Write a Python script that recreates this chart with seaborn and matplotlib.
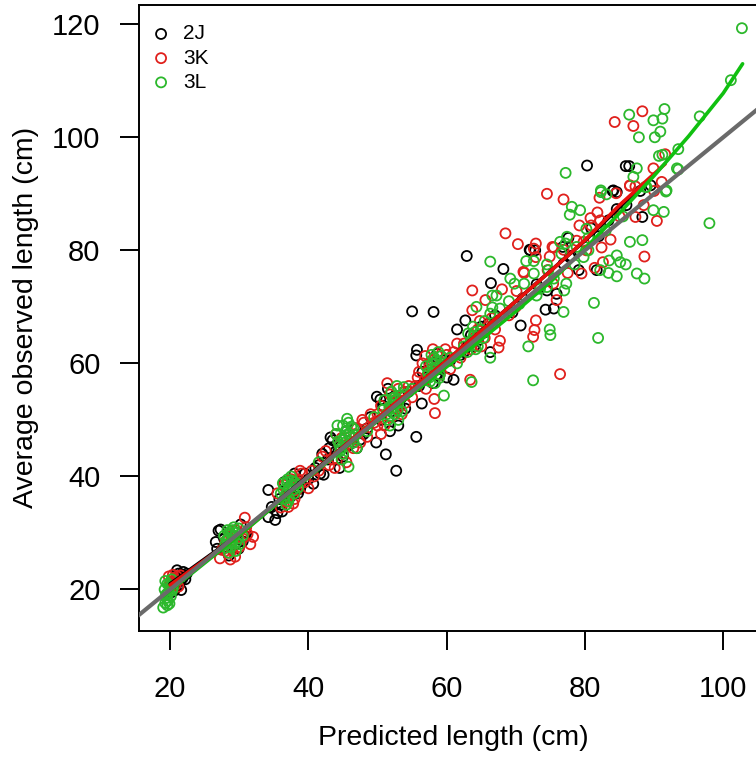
import matplotlib
matplotlib.use("Agg")
import matplotlib.pyplot as plt
import seaborn as sns

# observed vs predicted length, three NAFO divisions
x_2j = [20.5, 21.0, 21.0, 21.9, 21.5, 22.0, 20.8, 21.3, 22.2, 21.6, 20.2,
        27.0, 26.6, 27.3, 29.9, 28.0, 29.0, 30.5, 28.5, 31.0, 30.2,
        35.2, 34.2, 34.7, 34.2, 35.5, 36.0, 37.0, 38.5, 39.0, 36.5, 40.0, 38.0,
        42.2, 41.7, 40.7, 43.5, 43.2, 42.0, 44.0, 45.0, 46.5, 47.0, 45.5, 41.5, 44.5, 48.0,
        49.8, 51.2, 52.7, 49.9, 50.4, 55.6, 50.5, 52.0, 53.0, 51.5, 53.5, 54.0, 48.5,
        56.4, 55.7, 55.6, 55.0, 58.1, 58.6, 57.0, 58.5, 59.5, 56.0, 60.0,
        61.0, 61.5, 62.7, 62.9, 63.0, 64.5, 66.3, 66.4, 65.0, 62.0, 66.0,
        68.2, 70.7, 72.0, 72.8, 72.1, 74.5, 75.9, 75.5, 74.3, 76.8, 77.6, 77.8, 76.9,
        79.1, 80.3, 80.9, 83.4, 84.6, 84.0, 84.6, 84.1, 85.9, 86.4, 88.3, 81.7, 69.5,
        71.0, 73.0, 78.0, 82.0, 86.0, 88.0, 89.5,
        21.2, 21.8, 22.4, 20.6, 27.8, 29.5, 30.8, 26.8,
        35.8, 37.5, 38.8, 39.5, 36.2, 41.0, 42.8, 44.2, 45.8, 46.8, 47.5, 43.0,
        49.0, 50.8, 52.5, 53.2, 54.5, 51.8, 56.5, 57.5, 58.0, 59.0, 60.5,
        62.5, 63.5, 64.0, 65.5, 67.0]
y_2j = [21.0, 22.2, 23.4, 23.1, 21.5, 22.5, 20.3, 20.8, 21.8, 19.9, 19.5,
        30.4, 28.4, 30.6, 27.2, 27.5, 29.5, 28.5, 26.0, 30.0, 31.5,
        32.3, 32.8, 34.6, 37.6, 33.5, 35.0, 38.0, 37.0, 38.5, 39.0, 39.5, 40.5,
        40.3, 40.5, 38.7, 46.4, 46.9, 44.0, 44.5, 43.5, 46.0, 45.0, 48.0, 42.0, 41.5, 47.5,
        46.0, 43.9, 41.0, 54.1, 53.6, 47.0, 50.0, 51.5, 49.0, 55.5, 54.0, 52.0, 48.5,
        52.9, 62.4, 61.4, 69.2, 69.1, 61.7, 57.5, 58.0, 60.5, 56.0, 57.5,
        57.1, 66.0, 67.6, 79.0, 63.0, 64.0, 62.0, 74.2, 66.5, 61.5, 67.0,
        76.7, 66.7, 80.1, 80.0, 80.0, 72.9, 72.3, 69.7, 69.5, 80.6, 82.2, 78.8, 77.6,
        76.5, 95.0, 83.9, 85.3, 87.3, 90.5, 90.3, 90.6, 94.9, 94.9, 85.9, 76.5, 69.0,
        71.5, 74.0, 79.0, 82.5, 88.0, 90.5, 91.5,
        22.8, 22.0, 22.8, 19.8, 29.0, 28.0, 29.5, 27.2,
        36.0, 36.5, 37.8, 40.5, 33.8, 41.5, 43.0, 43.0, 45.5, 48.5, 46.5, 45.0,
        50.5, 52.5, 53.0, 52.5, 55.0, 48.0, 58.5, 60.0, 56.5, 59.0, 60.5,
        62.0, 65.0, 63.0, 65.5, 68.5]

x_3k = [20.0, 20.5, 21.0, 20.3, 21.2, 19.8, 20.7, 21.5,
        27.2, 28.7, 29.4, 31.6, 32.0, 30.8, 28.0, 29.5, 30.0, 27.5, 31.0,
        37.8, 37.1, 40.0, 35.5, 36.5, 38.0, 39.0, 40.5, 38.5, 37.0, 36.0,
        42.0, 43.0, 44.5, 45.0, 46.0, 47.0, 45.5, 46.5, 48.0, 44.0, 41.5, 47.5,
        51.4, 50.0, 51.0, 52.5, 53.0, 53.5, 54.5, 49.5, 52.0, 54.0, 50.5,
        58.3, 58.2, 56.9, 56.0, 57.5, 59.0, 60.0, 58.0, 55.5, 59.5, 57.0,
        63.7, 63.7, 63.4, 65.6, 67.5, 67.7, 62.0, 64.0, 65.0, 66.0, 61.5, 64.5,
        68.5, 70.3, 68.0, 70.1, 71.2, 74.6, 75.4, 75.9, 72.9, 72.7, 72.5, 76.4,
        72.9, 72.6, 72.9, 75.5, 74.9, 71.1, 74.5, 76.9, 82.1, 86.5, 87.3, 91.1,
        90.4, 80.8, 82.2, 81.8, 87.3, 88.6, 83.7, 82.4, 82.6, 81.4, 79.5, 75.3,
        76.9, 80.2, 79.8, 79.2, 80.9, 78.8, 84.3, 88.3, 87.0, 91.6, 89.9, 86.5,
        84.5, 70.0, 69.0, 77.5, 85.0, 88.5, 90.0,
        20.2, 20.8, 21.0, 20.4, 28.3, 29.0, 30.5, 31.2, 28.8,
        36.8, 38.3, 39.5, 37.5, 38.8, 40.8,
        42.5, 43.5, 44.8, 45.8, 46.8, 48.5, 47.8, 43.8,
        49.0, 50.5, 51.8, 52.8, 53.8, 55.0, 50.0,
        55.8, 56.8, 58.8, 59.8, 57.8, 60.5, 56.5,
        61.0, 62.5, 63.5, 65.5, 66.5, 67.0, 64.8]
y_3k = [21.0, 22.0, 21.5, 20.0, 20.5, 22.3, 21.8, 22.5,
        25.5, 25.3, 25.8, 28.0, 29.3, 32.7, 28.5, 30.5, 27.5, 27.0, 31.0,
        35.2, 34.6, 37.9, 37.0, 38.5, 36.0, 40.5, 41.0, 39.5, 36.5, 34.5,
        43.5, 42.0, 45.5, 44.0, 47.0, 48.5, 42.5, 45.0, 49.5, 47.5, 41.0, 46.0,
        56.5, 51.0, 49.0, 53.5, 55.5, 51.0, 56.0, 49.5, 50.5, 53.0, 47.5,
        51.2, 53.7, 61.3, 58.5, 59.5, 58.0, 61.5, 62.5, 56.0, 60.0, 55.5,
        72.9, 69.4, 57.1, 71.2, 62.8, 64.0, 61.0, 64.5, 63.0, 66.5, 63.5, 66.0,
        83.0, 81.1, 73.1, 72.8, 76.0, 76.5, 74.1, 71.2, 67.6, 65.9, 64.7, 58.1,
        81.2, 80.3, 78.8, 80.5, 78.9, 76.2, 90.0, 89.0, 89.3, 91.5, 91.3, 92.1,
        85.2, 85.7, 85.3, 86.7, 85.9, 78.9, 81.9, 80.5, 77.9, 76.9, 75.9, 80.6,
        80.1, 80.0, 81.5, 84.4, 84.4, 81.7, 102.7, 104.6, 102.0, 97.0, 94.5, 91.4,
        90.1, 70.0, 68.5, 76.0, 86.0, 88.0, 90.5,
        21.3, 20.8, 22.3, 22.6, 26.5, 27.0, 29.0, 29.8, 29.5,
        35.5, 37.5, 39.0, 39.5, 41.0, 40.0,
        44.5, 43.0, 46.8, 45.8, 47.5, 47.0, 50.0, 41.5,
        51.0, 52.5, 54.5, 52.0, 55.0, 54.0, 49.0,
        57.5, 57.0, 59.5, 62.5, 60.5, 59.0, 60.0,
        62.0, 63.5, 62.5, 64.5, 68.0, 66.0, 67.5]

x_3l = [19.0, 19.3, 19.5, 19.8, 19.2, 20.0, 19.6, 19.4, 20.3, 19.7, 20.2, 19.9,
        28.0, 28.5, 29.0, 29.5, 28.3, 29.8, 28.8, 29.2, 30.0, 28.5, 27.8, 30.5, 29.5, 29.0,
        36.5, 37.0, 37.5, 37.0, 36.8, 38.0, 37.5, 36.0, 38.5, 37.2, 38.0, 36.3,
        44.5, 45.0, 45.5, 46.0, 45.0, 46.5, 44.0, 45.8, 46.5, 44.8, 47.0, 45.6, 45.8, 44.2,
        51.5, 52.0, 52.5, 53.0, 52.0, 53.5, 51.8, 52.8, 53.0, 51.0, 54.0, 52.5,
        57.5, 58.0, 58.5, 57.8, 59.0, 58.3, 59.6, 57.0, 58.8, 59.5,
        63.0, 63.5, 64.0, 64.5, 65.0, 63.8, 64.3, 66.3, 66.6, 67.2, 66.6, 66.3, 67.7,
        66.3, 63.6, 62.5,
        69.0, 69.2, 69.8, 71.2, 71.8, 72.5, 73.5, 74.5, 77.0, 77.3, 76.9, 75.0, 71.5,
        72.6, 74.5, 74.7, 72.6, 76.4, 77.2, 77.4, 76.6, 78.8, 79.8, 80.2, 80.5, 77.2,
        78.1, 79.3, 77.8, 82.3, 83.1, 82.3, 87.0, 88.7, 91.8, 93.3, 89.9, 91.4, 86.5,
        88.3, 84.6, 85.1, 85.9, 87.5, 83.5, 82.2, 83.4, 84.6, 86.4, 91.5, 89.9, 91.2,
        87.8, 90.9, 90.1, 93.5, 90.7, 91.2, 93.5, 91.7, 87.5, 88.9, 96.6, 101.1, 102.7,
        98.0, 70.5, 73.0, 75.5, 78.5, 80.5, 83.0, 85.5, 81.9, 81.3, 74.9, 88.6,
        19.5, 19.8, 19.3, 20.1, 19.6, 20.4,
        28.2, 28.8, 29.3, 28.6, 29.6, 28.9, 29.9, 28.1,
        36.7, 37.3, 37.8, 36.9, 37.6, 36.4, 38.2, 37.1,
        44.7, 45.3, 45.9, 45.2, 46.2, 44.3, 45.0, 46.8, 44.6,
        51.3, 52.3, 52.7, 53.3, 52.2, 51.7, 53.8, 52.9, 50.8,
        57.3, 57.9, 58.6, 58.2, 59.2, 57.6, 58.9,
        63.3, 63.9, 64.6, 64.2, 65.3, 63.1, 65.5,
        41.5, 48.5, 49.5, 55.0, 60.5, 61.5]
y_3l = [16.8, 17.6, 18.5, 19.5, 20.0, 20.5, 21.0, 19.0, 19.8, 18.0, 21.8, 17.5,
        28.0, 29.0, 28.5, 30.0, 30.5, 29.0, 27.5, 31.0, 28.0, 26.5, 29.5, 29.5, 26.8, 30.5,
        36.0, 37.5, 38.5, 39.5, 35.0, 37.0, 40.0, 37.0, 38.0, 36.2, 39.0, 38.8,
        45.5, 46.5, 48.0, 47.0, 44.0, 46.0, 47.5, 49.5, 48.5, 43.0, 45.0, 50.2, 41.7, 49.0,
        50.0, 52.0, 54.0, 53.0, 55.0, 51.5, 49.0, 56.0, 50.0, 53.5, 54.5, 51.0,
        57.5, 59.0, 60.5, 61.5, 58.0, 56.5, 54.3, 59.5, 62.0, 60.0,
        62.0, 64.0, 65.5, 63.0, 66.0, 66.5, 70.0, 78.0, 72.0, 72.0, 69.9, 68.8, 69.7,
        61.0, 56.7, 63.0,
        71.0, 75.0, 74.1, 74.1, 63.0, 57.0, 73.2, 73.5, 72.9, 74.1, 69.1, 65.0, 78.1,
        78.1, 77.5, 76.5, 75.9, 81.5, 81.2, 82.4, 79.4, 80.6, 78.8, 83.8, 82.2, 93.7,
        87.7, 87.1, 86.3, 90.6, 89.9, 90.3, 93.0, 91.2, 90.6, 94.5, 87.1, 86.8, 81.5,
        81.8, 79.1, 77.9, 77.5, 75.9, 78.2, 76.5, 76.0, 75.4, 104.0, 105.0, 103.0, 103.3,
        100.0, 101.0, 100.0, 97.9, 96.7, 96.9, 94.3, 90.4, 94.5, 91.2, 103.7, 110.1, 119.3,
        84.8, 70.5, 72.0, 75.0, 77.5, 80.0, 83.5, 86.0, 64.5, 70.7, 66.0, 75.0,
        19.2, 20.8, 21.5, 18.8, 17.2, 20.3,
        28.8, 29.8, 29.5, 30.2, 28.4, 28.1, 30.8, 27.4,
        36.8, 38.0, 37.6, 39.0, 39.2, 37.6, 38.6, 35.6,
        45.0, 46.0, 47.5, 47.0, 48.8, 46.2, 49.0, 47.3, 44.5,
        51.0, 52.7, 53.6, 54.3, 53.8, 52.3, 55.8, 51.6, 51.8,
        58.3, 60.0, 59.3, 61.0, 61.3, 56.8, 57.4,
        63.2, 64.8, 65.2, 62.5, 64.5, 65.3, 67.5,
        42.5, 48.0, 50.5, 55.5, 61.0, 60.0]

# smoothed fits
smooth_x_2j = [20, 30, 40, 50, 60, 70, 80, 87]
smooth_y_2j = [21.0, 29.8, 40.2, 50.2, 60.5, 71.0, 81.7, 90.0]
smooth_x_3k = [20, 30, 40, 50, 60, 70, 75, 80, 85, 91.6]
smooth_y_3k = [20.8, 29.6, 40.0, 50.4, 60.5, 71.0, 76.3, 81.8, 88.0, 95.3]
smooth_x_3l = [19, 30, 40, 50, 60, 65, 70, 75, 80, 85, 90, 95, 100, 102.8]
smooth_y_3l = [18.8, 29.6, 39.8, 49.8, 59.4, 64.2, 69.2, 74.4, 80.3, 86.6, 93.2, 100.2, 107.8, 113.0]

one_to_one = [0, 130]

areas = ["2J", "3K", "3L"]
point_colors = {"2J": "black", "3K": "#e0201c", "3L": "#2cb82c"}
line_colors = {"2J": "black", "3K": "#e8100c", "3L": "#10c010"}


def main():
    sns.set_style("ticks")
    plt.rcParams['font.family'] = ['Liberation Sans', 'DejaVu Sans']
    plt.rcParams['text.color'] = 'black'
    plt.rcParams['axes.labelcolor'] = 'black'
    plt.rcParams['xtick.color'] = 'black'
    plt.rcParams['ytick.color'] = 'black'

    fig = plt.figure(figsize=(7.56, 7.59), dpi=100)
    ax = fig.add_axes([0.1839, 0.169, 0.8313, 0.8244])

    pts = {"2J": (x_2j, y_2j), "3K": (x_3k, y_3k), "3L": (x_3l, y_3l)}
    for a in areas:
        xs, ys = pts[a]
        c = point_colors[a]
        sns.scatterplot(x=xs, y=ys, ax=ax, marker="o", s=52, color=c,
                        edgecolor=c, facecolor="none", linewidth=1.3,
                        label=a, zorder=2)

    fits = {"2J": (smooth_x_2j, smooth_y_2j), "3K": (smooth_x_3k, smooth_y_3k),
            "3L": (smooth_x_3l, smooth_y_3l)}
    for a in areas:
        fx, fy = fits[a]
        sns.lineplot(x=fx, y=fy, ax=ax, color=line_colors[a], linewidth=2.6,
                     sort=False, estimator=None, zorder=3)

    sns.lineplot(x=one_to_one, y=one_to_one, ax=ax, color="#6a6a6a", linewidth=3.0,
                 sort=False, estimator=None, zorder=4)

    ax.set_xlim(15.5, 106.4)
    ax.set_ylim(12.7, 123.4)
    ax.set_xticks([20, 40, 60, 80, 100])
    ax.set_yticks([20, 40, 60, 80, 100, 120])
    ax.tick_params(axis="both", direction="out", length=13.7, width=1.4,
                   labelsize=21, color="black", labelcolor="black")
    ax.tick_params(axis="x", pad=18)
    ax.tick_params(axis="y", pad=14)
    for sp in ax.spines.values():
        sp.set_linewidth(1.4)
        sp.set_color("black")

    ax.set_xlabel("Predicted length (cm)", fontsize=20.5, color="black")
    ax.set_ylabel("Average observed length (cm)", fontsize=20.5, color="black")
    ax.xaxis.set_label_coords(0.5, -0.150)
    ax.yaxis.set_label_coords(-0.159, 0.5)

    leg = ax.legend(loc="upper left", bbox_to_anchor=(0.0185, 0.969), frameon=False,
                    fontsize=15, handlelength=1.0, handletextpad=0.55, labelspacing=0.25,
                    borderaxespad=0, borderpad=0)
    for t in leg.get_texts():
        t.set_color("black")

    fig.savefig("out.png", dpi=100)
    plt.close(fig)


if __name__ == '__main__':
    main()
